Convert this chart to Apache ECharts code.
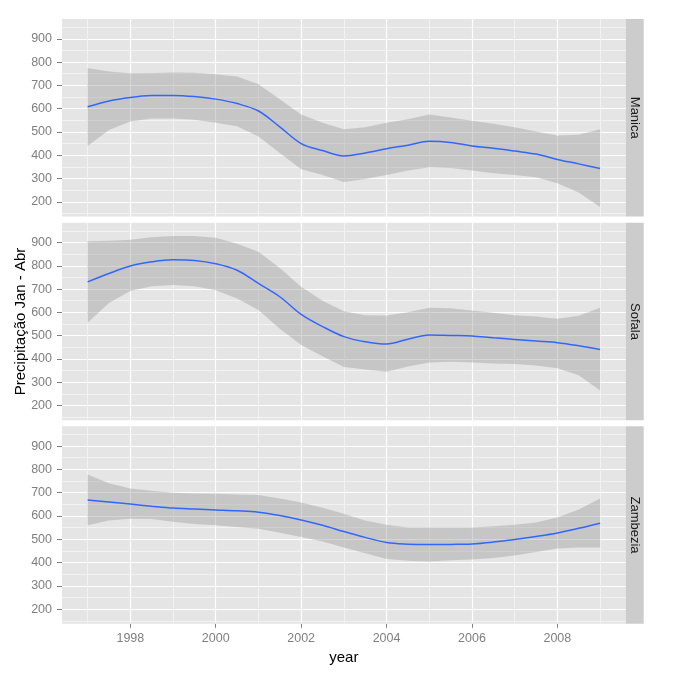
<!DOCTYPE html>
<html><head><meta charset="utf-8">
<script src="https://cdn.jsdelivr.net/npm/echarts@6/dist/echarts.min.js"></script>
<style>html,body{margin:0;padding:0;background:#fff}#c{width:673px;height:674px}</style>
</head><body><div id="c"></div>
<script>
// ---- data ----
const years = [1997,1997.5,1998,1998.5,1999,1999.5,2000,2000.5,2001,2001.5,2002,2002.5,2003,2003.5,2004,2004.5,2005,2005.5,2006,2006.5,2007,2007.5,2008,2008.5,2009];
const regions = ['Manica','Sofala','Zambezia'];

const manicaFit   = [608,633,648,656,657,652,641,622,590,522,450,420,397,410,428,443,460,455,440,430,418,405,382,363,343];
const manicaUpper = [775,760,752,753,755,754,748,738,705,640,575,540,512,520,540,555,575,562,548,535,520,502,485,488,512];
const manicaLower = [440,508,545,558,558,552,540,525,480,410,340,315,285,298,315,335,348,345,335,323,315,305,280,240,178];

const sofalaFit   = [731,767,799,817,826,823,809,781,724,667,591,539,496,474,464,485,503,501,499,491,484,477,470,457,441];
const sofalaUpper = [905,907,912,922,928,928,920,895,860,790,710,650,605,588,587,600,620,618,608,598,588,582,573,585,620];
const sofalaLower = [555,640,692,712,717,712,695,660,610,530,460,412,365,355,345,368,385,388,385,380,378,372,360,330,265];

const zambeziaFit   = [669,660,651,642,634,630,626,622,616,602,583,560,533,508,486,479,477,478,480,488,499,512,527,547,569];
const zambeziaUpper = [778,740,718,708,700,697,695,692,690,675,658,635,610,580,562,550,550,550,551,556,562,572,593,628,675];
const zambeziaLower = [560,580,588,587,575,566,560,553,545,528,510,490,465,440,415,408,405,410,413,420,430,445,460,465,465];

const yTicks = [200,300,400,500,600,700,800,900];
const yMinor = [150,250,350,450,550,650,750,850,950];
const xTicks = [1998,2000,2002,2004,2006,2008];
const xMinor = [1997,1999,2001,2003,2005,2007,2009];

const fits = [manicaFit, sofalaFit, zambeziaFit];
const uppers = [manicaUpper, sofalaUpper, zambeziaUpper];
const lowers = [manicaLower, sofalaLower, zambeziaLower];

// ---- layout / style ----
const LEFT = 62, WIDTH = 563.7, H = 197.5;
const tops = [19, 222.7, 426.3];
const X_MIN = 1996.4, X_MAX = 2009.6, Y_MIN = 137, Y_MAX = 985;
const FONT = 'Liberation Sans, Arial, sans-serif';

const grids = [], xAxes = [], yAxes = [], series = [], graphics = [];
tops.forEach((t, g) => {
  grids.push({left: LEFT, top: t, width: WIDTH, height: H, show: true,
    backgroundColor: '#E5E5E5', borderWidth: 0, containLabel: false, outerBoundsMode: 'none'});
  const bottom = g === 2;
  // minor axes (drawn first)
  xAxes.push({type: 'value', gridIndex: g, min: X_MIN, max: X_MAX, position: 'bottom',
    axisLine: {show: false}, axisLabel: {show: false},
    axisTick: {show: false, customValues: xMinor},
    splitLine: {show: true, lineStyle: {color: '#F2F2F2', width: 1}}});
  yAxes.push({type: 'value', gridIndex: g, min: Y_MIN, max: Y_MAX, position: 'right',
    axisLine: {show: false}, axisLabel: {show: false},
    axisTick: {show: false, customValues: yMinor},
    splitLine: {show: true, lineStyle: {color: '#F2F2F2', width: 1}}});
  // major axes
  xAxes.push({type: 'value', gridIndex: g, min: X_MIN, max: X_MAX, position: 'bottom',
    axisLine: {show: false},
    axisTick: {show: bottom, length: 4, customValues: xTicks, lineStyle: {color: '#7F7F7F', width: 1}},
    axisLabel: {show: bottom, customValues: xTicks, margin: 8, color: '#7F7F7F', fontSize: 12.5, fontFamily: FONT,
      formatter: v => String(Math.round(v))},
    splitLine: {show: true, lineStyle: {color: '#FFFFFF', width: 1.2}},
    name: bottom ? 'year' : '', nameLocation: 'middle', nameGap: 27, nameMoveOverlap: false,
    nameTextStyle: {color: '#000', fontSize: 15, fontFamily: FONT}});
  yAxes.push({type: 'value', gridIndex: g, min: Y_MIN, max: Y_MAX, position: 'left',
    axisLine: {show: false},
    axisTick: {show: true, length: 5, customValues: yTicks, lineStyle: {color: '#7F7F7F', width: 1}},
    axisLabel: {show: true, customValues: yTicks, margin: 10, color: '#7F7F7F', fontSize: 12.5, fontFamily: FONT,
      formatter: v => String(Math.round(v))},
    splitLine: {show: true, lineStyle: {color: '#FFFFFF', width: 1.2}},
    name: g === 1 ? 'Precipitação Jan - Abr' : '', nameLocation: 'middle', nameGap: 34, nameMoveOverlap: false,
    nameTextStyle: {color: '#000', fontSize: 15, fontFamily: FONT}});

  const xi = g * 2 + 1, yi = g * 2 + 1;
  const up = uppers[g], lo = lowers[g];
  series.push({
    type: 'custom', xAxisIndex: xi, yAxisIndex: yi, silent: true, z: 3,
    data: [[years[0], lo[0]]],
    renderItem: function (params, api) {
      const pts = [];
      for (let i = 0; i < years.length; i++) pts.push(api.coord([years[i], up[i]]));
      for (let i = years.length - 1; i >= 0; i--) pts.push(api.coord([years[i], lo[i]]));
      return {type: 'polygon', shape: {points: pts}, style: {fill: 'rgba(153,153,153,0.4)'}};
    }
  });
  series.push({
    type: 'line', xAxisIndex: xi, yAxisIndex: yi, z: 4, silent: true,
    data: years.map((y, i) => [y, fits[g][i]]),
    showSymbol: false, smooth: 0.35,
    lineStyle: {color: '#3366FF', width: 1.5}
  });
  // facet strip
  graphics.push({type: 'rect', left: LEFT + WIDTH, top: t, shape: {width: 18, height: H},
    style: {fill: '#CCCCCC'}, silent: true});
  graphics.push({type: 'text', x: LEFT + WIDTH + 9, y: t + H / 2, rotation: -Math.PI / 2,
    style: {text: regions[g], fill: '#1A1A1A', font: '13px ' + FONT, align: 'center', verticalAlign: 'middle'},
    silent: true});
});

const chart = echarts.init(document.getElementById('c'), null, {renderer: 'canvas'});
chart.setOption({
  animation: false,
  backgroundColor: '#FFFFFF',
  grid: grids, xAxis: xAxes, yAxis: yAxes, series: series, graphic: graphics
});
</script>
</body></html>
